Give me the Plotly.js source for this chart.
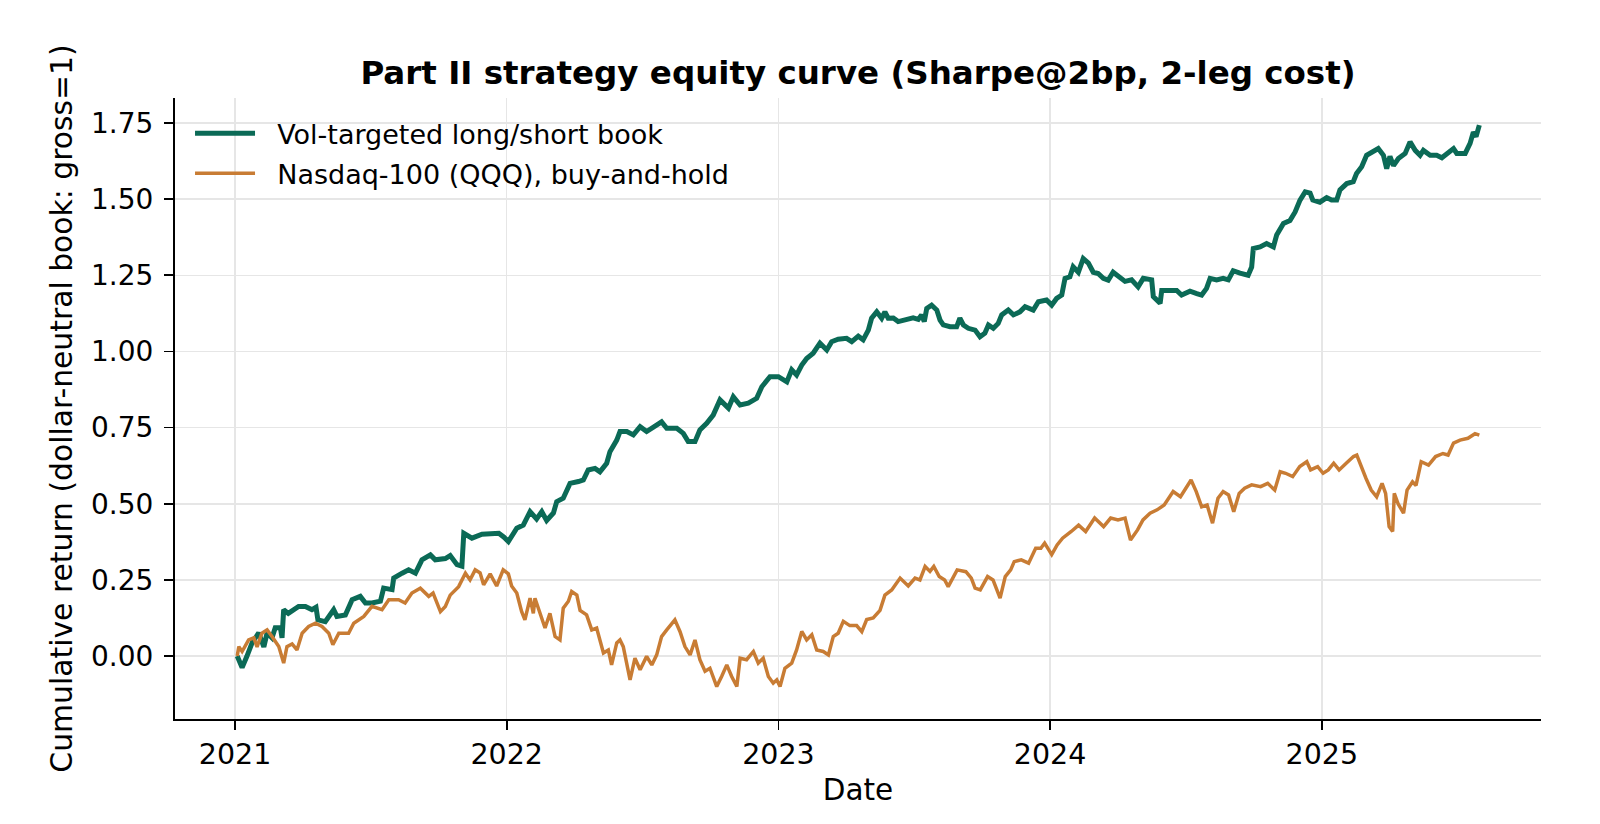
<!DOCTYPE html>
<html>
<head>
<meta charset="utf-8">
<script src="https://cdn.plot.ly/plotly-3.0.1.min.js"></script>
<style>
  html, body { margin: 0; padding: 0; background: #ffffff; }
  #chart { width: 1600px; height: 824px; }
</style>
</head>
<body>
<div id="chart"></div>
<script>
// Time as decimal years
const bookT = [2021.008,2021.026,2021.044,2021.063,2021.087,2021.106,2021.118,2021.136,2021.148,2021.167,2021.173,2021.179,2021.196,2021.234,2021.259,2021.283,2021.298,2021.305,2021.332,2021.363,2021.375,2021.406,2021.431,2021.461,2021.480,2021.504,2021.535,2021.547,2021.578,2021.584,2021.615,2021.639,2021.664,2021.688,2021.719,2021.737,2021.774,2021.792,2021.817,2021.835,2021.842,2021.872,2021.909,2021.946,2021.971,2021.990,2022.006,2022.037,2022.061,2022.086,2022.110,2022.129,2022.147,2022.172,2022.184,2022.208,2022.233,2022.264,2022.282,2022.300,2022.325,2022.343,2022.368,2022.380,2022.405,2022.417,2022.442,2022.466,2022.491,2022.515,2022.540,2022.570,2022.589,2022.626,2022.650,2022.668,2022.693,2022.711,2022.736,2022.760,2022.785,2022.816,2022.834,2022.859,2022.889,2022.920,2022.939,2022.969,2023.000,2023.031,2023.049,2023.067,2023.086,2023.104,2023.128,2023.153,2023.178,2023.196,2023.220,2023.251,2023.270,2023.294,2023.312,2023.331,2023.343,2023.362,2023.380,2023.392,2023.404,2023.423,2023.441,2023.472,2023.496,2023.515,2023.527,2023.537,2023.546,2023.564,2023.583,2023.595,2023.607,2023.632,2023.656,2023.668,2023.681,2023.699,2023.724,2023.742,2023.760,2023.773,2023.791,2023.809,2023.822,2023.846,2023.865,2023.889,2023.908,2023.938,2023.957,2023.987,2024.006,2024.024,2024.043,2024.055,2024.073,2024.085,2024.104,2024.122,2024.141,2024.159,2024.177,2024.196,2024.214,2024.232,2024.257,2024.276,2024.300,2024.324,2024.343,2024.374,2024.380,2024.405,2024.411,2024.441,2024.466,2024.484,2024.515,2024.540,2024.558,2024.576,2024.589,2024.613,2024.637,2024.656,2024.674,2024.699,2024.729,2024.742,2024.748,2024.773,2024.797,2024.822,2024.834,2024.859,2024.883,2024.902,2024.920,2024.939,2024.957,2024.967,2024.993,2025.018,2025.036,2025.055,2025.067,2025.092,2025.116,2025.128,2025.147,2025.165,2025.190,2025.208,2025.227,2025.239,2025.251,2025.264,2025.282,2025.307,2025.325,2025.344,2025.362,2025.374,2025.399,2025.423,2025.442,2025.466,2025.485,2025.497,2025.528,2025.546,2025.558,2025.568,2025.580];
const bookV = [0.000,-0.038,0.000,0.044,0.076,0.030,0.076,0.060,0.093,0.093,0.060,0.152,0.140,0.163,0.163,0.152,0.160,0.119,0.113,0.152,0.130,0.135,0.185,0.196,0.174,0.174,0.180,0.223,0.218,0.256,0.272,0.283,0.272,0.316,0.332,0.316,0.320,0.330,0.300,0.295,0.403,0.387,0.400,0.403,0.403,0.390,0.376,0.420,0.430,0.474,0.450,0.474,0.445,0.470,0.507,0.518,0.567,0.573,0.578,0.611,0.616,0.605,0.633,0.671,0.709,0.737,0.737,0.726,0.753,0.737,0.753,0.769,0.748,0.748,0.731,0.704,0.704,0.742,0.764,0.791,0.841,0.814,0.851,0.824,0.830,0.846,0.884,0.917,0.917,0.900,0.940,0.923,0.955,0.977,0.994,1.027,1.005,1.032,1.040,1.043,1.032,1.050,1.038,1.070,1.109,1.130,1.109,1.130,1.109,1.110,1.098,1.105,1.110,1.105,1.120,1.098,1.141,1.152,1.136,1.103,1.087,1.081,1.081,1.109,1.087,1.076,1.070,1.048,1.060,1.087,1.076,1.092,1.120,1.136,1.120,1.130,1.147,1.136,1.163,1.169,1.152,1.174,1.185,1.240,1.245,1.278,1.260,1.305,1.290,1.260,1.256,1.240,1.234,1.260,1.245,1.230,1.235,1.212,1.240,1.235,1.180,1.158,1.200,1.200,1.200,1.185,1.198,1.190,1.185,1.207,1.240,1.235,1.240,1.235,1.265,1.257,1.250,1.277,1.338,1.343,1.354,1.343,1.382,1.420,1.430,1.458,1.497,1.524,1.520,1.497,1.490,1.505,1.497,1.497,1.530,1.551,1.557,1.584,1.606,1.644,1.655,1.666,1.644,1.600,1.640,1.610,1.633,1.650,1.688,1.660,1.644,1.660,1.644,1.644,1.636,1.650,1.666,1.650,1.650,1.683,1.720,1.705,1.743];

const qqqT = [2021.008,2021.014,2021.026,2021.050,2021.069,2021.081,2021.099,2021.118,2021.136,2021.161,2021.179,2021.191,2021.210,2021.228,2021.247,2021.271,2021.296,2021.320,2021.345,2021.360,2021.382,2021.418,2021.437,2021.474,2021.504,2021.541,2021.566,2021.602,2021.626,2021.651,2021.682,2021.713,2021.729,2021.756,2021.774,2021.792,2021.823,2021.848,2021.865,2021.884,2021.902,2021.915,2021.939,2021.963,2021.987,2022.006,2022.018,2022.037,2022.055,2022.067,2022.086,2022.098,2022.104,2022.123,2022.141,2022.159,2022.178,2022.196,2022.208,2022.227,2022.239,2022.258,2022.270,2022.294,2022.313,2022.331,2022.356,2022.374,2022.386,2022.405,2022.417,2022.429,2022.454,2022.472,2022.491,2022.515,2022.534,2022.552,2022.570,2022.589,2022.601,2022.619,2022.638,2022.656,2022.675,2022.693,2022.711,2022.730,2022.748,2022.773,2022.791,2022.810,2022.828,2022.847,2022.859,2022.883,2022.908,2022.926,2022.944,2022.963,2022.981,2022.994,2023.006,2023.024,2023.049,2023.067,2023.086,2023.104,2023.123,2023.141,2023.165,2023.184,2023.202,2023.220,2023.239,2023.263,2023.288,2023.307,2023.325,2023.349,2023.374,2023.392,2023.417,2023.448,2023.478,2023.503,2023.521,2023.540,2023.558,2023.572,2023.592,2023.612,2023.625,2023.658,2023.690,2023.710,2023.724,2023.743,2023.770,2023.790,2023.816,2023.835,2023.855,2023.868,2023.894,2023.921,2023.947,2023.966,2023.980,2024.006,2024.026,2024.046,2024.078,2024.105,2024.131,2024.164,2024.197,2024.223,2024.250,2024.276,2024.296,2024.322,2024.342,2024.368,2024.394,2024.420,2024.453,2024.480,2024.519,2024.538,2024.558,2024.578,2024.598,2024.618,2024.637,2024.657,2024.676,2024.696,2024.716,2024.742,2024.775,2024.801,2024.827,2024.847,2024.867,2024.893,2024.919,2024.945,2024.959,2024.985,2025.005,2025.024,2025.044,2025.064,2025.090,2025.117,2025.129,2025.149,2025.163,2025.182,2025.202,2025.222,2025.235,2025.248,2025.261,2025.267,2025.281,2025.301,2025.314,2025.334,2025.347,2025.366,2025.393,2025.419,2025.446,2025.465,2025.485,2025.509,2025.538,2025.564,2025.580];
const qqqV = [0.000,0.031,0.015,0.053,0.060,0.030,0.075,0.086,0.064,0.031,-0.023,0.031,0.040,0.020,0.075,0.097,0.108,0.097,0.075,0.037,0.075,0.075,0.108,0.130,0.163,0.152,0.185,0.185,0.174,0.207,0.223,0.196,0.207,0.146,0.163,0.200,0.228,0.272,0.250,0.283,0.273,0.234,0.270,0.230,0.283,0.270,0.230,0.207,0.146,0.119,0.190,0.140,0.190,0.135,0.092,0.140,0.064,0.053,0.157,0.180,0.212,0.200,0.150,0.135,0.086,0.092,0.010,0.020,-0.029,0.043,0.053,0.031,-0.078,-0.007,-0.045,-0.001,-0.029,0.004,0.064,0.086,0.100,0.119,0.080,0.031,0.004,0.053,-0.012,-0.050,-0.040,-0.100,-0.067,-0.029,-0.067,-0.100,-0.007,-0.012,0.015,-0.023,-0.007,-0.067,-0.089,-0.078,-0.100,-0.040,-0.023,0.020,0.081,0.053,0.070,0.020,0.015,0.004,0.064,0.075,0.114,0.100,0.100,0.080,0.120,0.125,0.150,0.200,0.217,0.256,0.230,0.256,0.250,0.294,0.278,0.294,0.261,0.250,0.228,0.283,0.277,0.256,0.223,0.217,0.261,0.250,0.190,0.261,0.283,0.310,0.316,0.305,0.354,0.354,0.371,0.333,0.365,0.387,0.409,0.430,0.409,0.453,0.425,0.453,0.447,0.453,0.381,0.414,0.447,0.469,0.480,0.496,0.540,0.523,0.578,0.540,0.490,0.496,0.436,0.518,0.540,0.529,0.474,0.534,0.551,0.562,0.556,0.567,0.545,0.605,0.600,0.589,0.622,0.638,0.611,0.622,0.600,0.611,0.633,0.611,0.633,0.655,0.660,0.611,0.583,0.545,0.523,0.567,0.534,0.425,0.409,0.534,0.500,0.469,0.545,0.572,0.560,0.638,0.627,0.655,0.665,0.660,0.699,0.709,0.715,0.730,0.725];

const seriesNames = ['Vol-targeted long/short book', 'Nasdaq-100 (QQQ), buy-and-hold'];
const yearTicks = [2021, 2022, 2023, 2024, 2025];
const yearLabels = ['2021', '2022', '2023', '2024', '2025'];
const yTicks = [0, 0.25, 0.5, 0.75, 1.0, 1.25, 1.5, 1.75];

const FONT = 'DejaVu Sans, Liberation Sans, sans-serif';
const GAP = '\u00a0\u00a0';

const traces = [
  {
    x: bookT, y: bookV, type: 'scatter', mode: 'lines',
    name: GAP + seriesNames[0], legendgroup: 'a',
    line: { color: '#0b6a56', width: 5 },
    hoverinfo: 'skip'
  },
  {
    x: qqqT, y: qqqV, type: 'scatter', mode: 'lines',
    name: GAP + seriesNames[1], legendgroup: 'b',
    line: { color: '#c87c34', width: 3.5 },
    hoverinfo: 'skip'
  }
];

const layout = {
  width: 1600, height: 824,
  margin: { l: 175, r: 59, t: 98, b: 105, pad: 0 },
  paper_bgcolor: '#ffffff', plot_bgcolor: '#ffffff',
  font: { family: FONT, color: '#000000', size: 28 },
  showlegend: true,
  title: {
    text: 'Part II strategy equity curve (Sharpe@2bp, 2-leg cost)',
    font: { family: FONT, size: 32.5, color: '#000000', weight: 700 },
    x: 0.5, xref: 'paper', xanchor: 'center',
    y: 0.912, yref: 'container', yanchor: 'middle'
  },
  legend: {
    x: 0.011, y: 0.982, xanchor: 'left', yanchor: 'top',
    bgcolor: 'rgba(0,0,0,0)', borderwidth: 0,
    font: { family: FONT, size: 27, color: '#000000' },
    traceorder: 'grouped', tracegroupgap: 2,
    itemwidth: 60
  },
  xaxis: {
    type: 'linear',
    range: [2020.779, 2025.807],
    tickmode: 'array', tickvals: yearTicks, ticktext: yearLabels,
    ticks: 'outside', ticklen: 9, tickwidth: 1.7, tickcolor: '#000000',
    showline: true, linecolor: '#000000', linewidth: 2, mirror: false,
    showgrid: true, gridcolor: '#e6e6e6', gridwidth: 1.5,
    zeroline: false,
    tickfont: { family: FONT, size: 28.5, color: '#000000' },
    title: { text: 'Date', font: { family: FONT, size: 29.5, color: '#000000' }, standoff: 9 },
    fixedrange: true
  },
  yaxis: {
    range: [-0.2066, 1.832],
    tickmode: 'array', tickvals: yTicks, tickformat: '.2f',
    ticks: 'outside', ticklen: 9, tickwidth: 1.7, tickcolor: '#000000',
    ticklabelstandoff: 5,
    showline: true, linecolor: '#000000', linewidth: 2, mirror: false,
    showgrid: true, gridcolor: '#e6e6e6', gridwidth: 1.5,
    zeroline: false,
    tickfont: { family: FONT, size: 28, color: '#000000' },
    title: { text: 'Cumulative return (dollar-neutral book: gross=1)', font: { family: FONT, size: 29.8, color: '#000000' }, standoff: 10 },
    fixedrange: true
  }
};

Plotly.newPlot('chart', traces, layout, { displayModeBar: false, staticPlot: true });
</script>
</body>
</html>
